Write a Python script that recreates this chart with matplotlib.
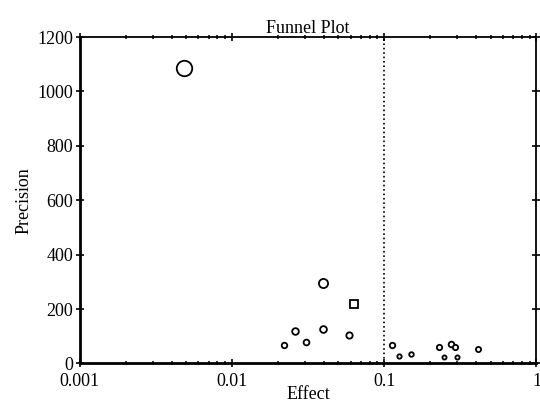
import numpy as np
import matplotlib
matplotlib.use("Agg")
import matplotlib.pyplot as plt
from matplotlib.ticker import LogLocator, NullFormatter

plt.rcParams['font.family'] = ['Liberation Serif', 'DejaVu Serif']

# study effects and precisions
effect = [0.0048, 0.0394, 0.0259, 0.0395, 0.0585, 0.0220, 0.0307,
          0.1127, 0.1247, 0.149, 0.2296, 0.2466, 0.2754, 0.2925, 0.300, 0.410]
precision = [1085, 296, 120, 127, 103, 68, 78,
             66, 28, 34, 61, 22, 73, 60, 24, 54]
# one study drawn as a square
square_effect = [0.0634]
square_precision = [217]

pooled = 0.1

fig = plt.figure(figsize=(5.4, 4.07), dpi=100)
ax = fig.add_axes([0.148, 0.107, 0.8455, 0.802])

# marker diameter grows with precision
def size(p):
    return 1.6 + 0.29 * np.sqrt(p)

for x, y in zip(effect, precision):
    ax.plot(x, y, 'o', ms=size(y), mfc='white', mec='black', mew=1.3, zorder=3)
for x, y in zip(square_effect, square_precision):
    ax.plot(x, y, 's', ms=size(y) - 0.5, mfc='white', mec='black', mew=1.3, zorder=3)

ax.axvline(pooled, color='black', ls=':', lw=1.2)

ax.set_xscale('log')
ax.set_xlim(0.001, 1)
ax.set_ylim(0, 1200)
ax.set_xticks([0.001, 0.01, 0.1, 1])
ax.set_xticklabels(['0.001', '0.01', '0.1', '1'])
ax.xaxis.set_minor_locator(LogLocator(base=10, subs=np.arange(2, 10)))
ax.xaxis.set_minor_formatter(NullFormatter())
ax.set_yticks(np.arange(0, 1201, 200))

ax.tick_params(which='both', top=True, right=True, labelsize=13, color='black')
ax.tick_params(axis='y', pad=2)
ax.tick_params(axis='x', pad=4)
ax.tick_params(axis='both', which='major', direction='inout', length=6, width=1.2)
ax.tick_params(axis='x', which='minor', direction='inout', length=3.5, width=1.1)

for s in ax.spines.values():
    s.set_linewidth(1.3)
ax.spines['bottom'].set_linewidth(2.0)
ax.spines['left'].set_linewidth(2.0)

ax.set_title('Funnel Plot', fontsize=13, pad=2)
ax.set_xlabel('Effect', fontsize=13, labelpad=-3)
ax.set_ylabel('Precision', fontsize=13, labelpad=3)

fig.savefig('out.png', dpi=100)
